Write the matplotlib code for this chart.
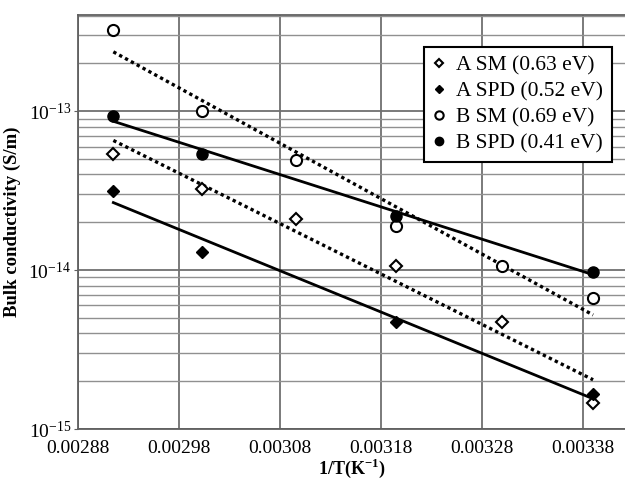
import numpy as np
import matplotlib
matplotlib.use("Agg")
import matplotlib.pyplot as plt
from matplotlib.ticker import LogLocator, FixedLocator, NullFormatter

plt.rcParams["font.family"] = ["Liberation Serif", "DejaVu Serif"]
plt.rcParams["mathtext.fontset"] = "custom"
plt.rcParams["mathtext.rm"] = "Liberation Serif"
plt.rcParams["mathtext.bf"] = "Liberation Serif:bold"

# ---- data (1/T in 1/K, conductivity in S/m) ----
x_a_sm = [0.002915, 0.003003, 0.003096, 0.003195, 0.003300, 0.003390]
y_a_sm = [5.4e-14, 3.25e-14, 2.1e-14, 1.06e-14, 4.75e-15, 1.45e-15]

x_a_spd = [0.002915, 0.003003, 0.003195, 0.003390]
y_a_spd = [3.15e-14, 1.31e-14, 4.75e-15, 1.65e-15]

x_b_sm = [0.002915, 0.003003, 0.003096, 0.003195, 0.003300, 0.003390]
y_b_sm = [3.25e-13, 1.0e-13, 4.9e-14, 1.9e-14, 1.06e-14, 6.7e-15]

x_b_spd = [0.002915, 0.003003, 0.003195, 0.003390]
y_b_spd = [9.3e-14, 5.4e-14, 2.2e-14, 9.8e-15]

labels = ["A SM (0.63 eV)", "A SPD (0.52 eV)", "B SM (0.69 eV)", "B SPD (0.41 eV)"]
x_ticks = [0.00288, 0.00298, 0.00308, 0.00318, 0.00328, 0.00338]

fig = plt.figure(figsize=(6.25, 4.84), dpi=100)
ax = fig.add_axes([0.1248, 0.1136, 0.8752, 0.8554])


def trend(ax, xs, ys, ls, lw):
    xs = np.array(xs)
    k, b = np.polyfit(xs, np.log10(ys), 1)
    xx = np.array([xs.min(), xs.max()])
    ax.plot(xx, 10 ** (k * xx + b), color="black", linestyle=ls, linewidth=lw,
            zorder=3)


trend(ax, x_b_sm, y_b_sm, (0, (1, 1)), 2.4)
trend(ax, x_a_sm, y_a_sm, (0, (1, 1)), 2.4)
trend(ax, x_b_spd, y_b_spd, "-", 2.0)
trend(ax, x_a_spd, y_a_spd, "-", 2.0)

ax.plot(x_a_sm, y_a_sm, "D", mfc="white", mec="black", mew=1.5, ms=6,
        ls="none", label=labels[0], zorder=4)
ax.plot(x_a_spd, y_a_spd, "D", mfc="black", mec="black", ms=6,
        ls="none", label=labels[1], zorder=4)
ax.plot(x_b_sm, y_b_sm, "o", mfc="white", mec="black", mew=1.5, ms=8,
        ls="none", label=labels[2], zorder=4)
ax.plot(x_b_spd, y_b_spd, "o", mfc="black", mec="black", ms=8,
        ls="none", label=labels[3], zorder=4)

ax.set_yscale("log")
ax.set_xlim(0.00288, 0.0034216)
ax.set_ylim(1e-15, 10 ** -12.394)
ax.xaxis.set_major_locator(FixedLocator(x_ticks))
ax.set_xticklabels([f"{t:.5f}" for t in x_ticks])
ax.yaxis.set_major_locator(FixedLocator([1e-15, 1e-14, 1e-13]))
ax.yaxis.set_minor_locator(LogLocator(base=10, subs=np.arange(2, 10), numticks=10))
ax.yaxis.set_minor_formatter(NullFormatter())

ax.grid(True, which="major", axis="both", color="#707070", linewidth=1.3)
ax.grid(True, which="minor", axis="y", color="#909090", linewidth=1.0)
ax.set_axisbelow(True)

for side in ["left", "bottom", "top"]:
    ax.spines[side].set_color("#606060")
    ax.spines[side].set_linewidth(1.3)
ax.spines["right"].set_visible(False)

ax.tick_params(axis="y", which="major", labelsize=14, length=3,
               color="#606060", direction="out", pad=2)
ax.tick_params(axis="y", which="minor", length=0)
ax.tick_params(axis="x", labelsize=14, length=0, pad=8)

ax.set_ylabel("Bulk conductivity (S/m)", fontsize=13.5, fontweight="bold",
              labelpad=5)
ax.set_xlabel("1/T(K$^{\\mathbf{-1}}$)", fontsize=13, fontweight="bold",
              labelpad=0)

leg = ax.legend(loc="upper right", bbox_to_anchor=(0.9762, 0.9233),
                borderaxespad=0, fontsize=15.5, frameon=True, fancybox=False,
                framealpha=1, edgecolor="black", handlelength=0.6,
                handletextpad=0.5, labelspacing=0.28, borderpad=0.4,
                markerscale=0.75)
leg.get_frame().set_linewidth(1.5)

fig.savefig("out.png", dpi=100)
